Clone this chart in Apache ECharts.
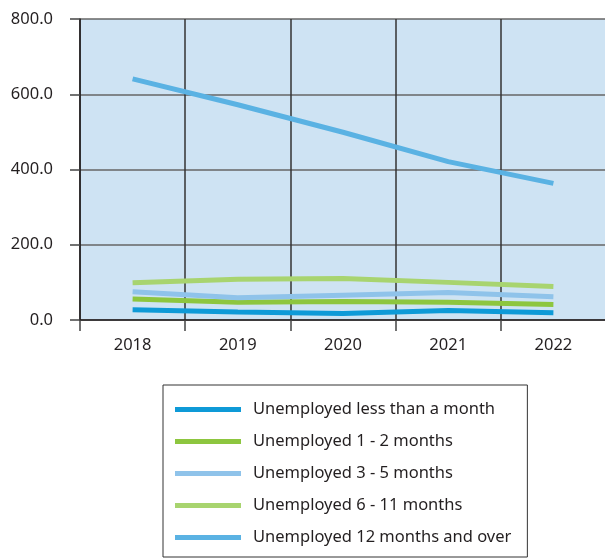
<!DOCTYPE html>
<html>
<head>
<meta charset="utf-8">
<script src="https://cdn.jsdelivr.net/npm/echarts@6/dist/echarts.min.js"></script>
<style>html,body{margin:0;padding:0;background:#fff;width:605px;height:558px;overflow:hidden}#c{width:620px;height:558px}</style>
</head>
<body>
<div id="c"></div>
<script>
const years = ['2018', '2019', '2020', '2021', '2022'];
const lessThanMonth = [27, 21, 17, 25, 19];
const oneToTwo = [56, 47, 49, 47, 41];
const threeToFive = [75, 59, 66, 73, 62];
const sixToEleven = [99, 108, 110, 100, 89];
const twelvePlus = [641, 572, 499, 421, 363];
const seriesNames = ['Unemployed less than a month', 'Unemployed 1 - 2 months', 'Unemployed 3 - 5 months', 'Unemployed 6 - 11 months', 'Unemployed 12 months and over'];
const seriesData = [lessThanMonth, oneToTwo, threeToFive, sixToEleven, twelvePlus];
const colors = ['#0e9ad7', '#8dc63f', '#8fc3ea', '#a8d46f', '#5ab2e3'];
const yTicks = { min: 0, max: 800, interval: 200 };

const chart = echarts.init(document.getElementById('c'));
chart.setOption({
  animation: false,
  textStyle: { fontFamily: 'Noto Sans' },
  grid: { left: 80, width: 526, top: 19, height: 301, backgroundColor: '#cee3f3', show: true, borderWidth: 0 },
  xAxis: {
    type: 'category', data: years, boundaryGap: true,
    axisLine: { lineStyle: { color: '#231f20', width: 1.5 } },
    axisTick: { show: true, length: 11, lineStyle: { color: '#444', width: 1.5 } },
    axisLabel: { color: '#231f20', fontSize: 16.5, margin: 17 },
    splitLine: { show: true, lineStyle: { color: '#333', width: 1.5 } }
  },
  yAxis: {
    type: 'value', min: yTicks.min, max: yTicks.max, interval: yTicks.interval,
    axisLine: { show: true, lineStyle: { color: '#231f20', width: 1.5 } },
    axisTick: { show: true, length: 10, lineStyle: { color: '#444', width: 1.5 } },
    axisLabel: { color: '#231f20', fontSize: 16.5, margin: 27, formatter: v => v.toFixed(1) },
    splitLine: { show: true, lineStyle: { color: '#666', width: 1.5 } }
  },
  legend: {
    orient: 'vertical', left: 163, top: 385,
    data: seriesNames,
    itemWidth: 66, itemHeight: 5, itemGap: 13,
    icon: 'rect',
    padding: [15, 16, 10, 12],
    borderColor: '#333', borderWidth: 1,
    textStyle: { color: '#231f20', fontSize: 16.5, lineHeight: 19, padding: [0, 0, 0, 7] }
  },
  series: seriesNames.map((n, i) => ({
    name: n, type: 'line', data: seriesData[i],
    symbol: 'none', lineStyle: { width: 5, color: colors[i] }, itemStyle: { color: colors[i] }
  }))
});
</script>
</body>
</html>
